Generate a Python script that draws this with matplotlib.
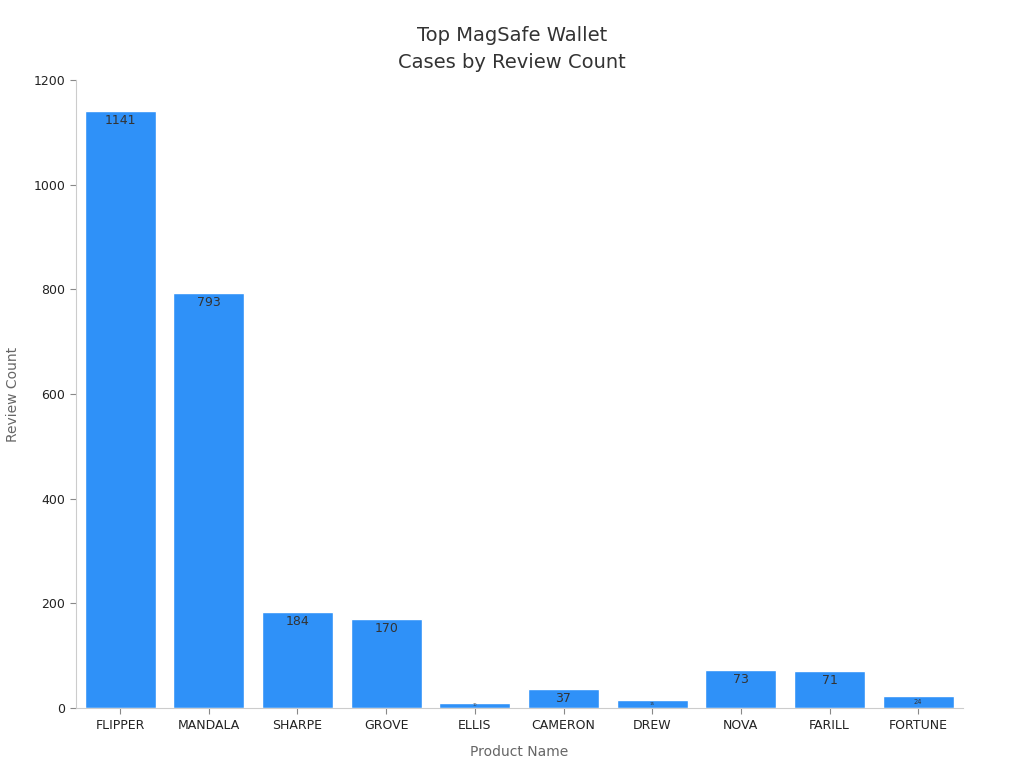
import matplotlib.pyplot as plt

products = ["FLIPPER", "MANDALA", "SHARPE", "GROVE", "ELLIS",
            "CAMERON", "DREW", "NOVA", "FARILL", "FORTUNE"]
reviews = [1141, 793, 184, 170, 10, 37, 15, 73, 71, 24]

fig = plt.figure(figsize=(10.24, 7.68), dpi=100)
ax = fig.add_axes([0.074, 0.078, 0.866, 0.818])

bars = ax.bar(range(len(products)), reviews, width=0.8, color="#2f91f8",
              edgecolor="white", linewidth=1)

for i, v in enumerate(reviews):
    # shrink labels that don't fit inside short bars
    fs = 9 if v >= 30 else max(2.5, v * 0.2)
    off = 6 if v >= 30 else v * 0.5
    va = "top" if v >= 30 else "center"
    ax.text(i, v - off, str(v), ha="center", va=va, fontsize=fs, color="#333333")

ax.set_xlim(-0.5, len(products) - 0.5)
ax.set_ylim(0, 1200)
ax.set_yticks(range(0, 1201, 200))
ax.set_xticks(range(len(products)))
ax.set_xticklabels(products, fontsize=9, color="#222222")
ax.tick_params(axis="y", labelsize=9, labelcolor="#222222")
ax.tick_params(color="#888888", length=4)

for s in ["top", "right"]:
    ax.spines[s].set_visible(False)
for s in ["left", "bottom"]:
    ax.spines[s].set_color("#cccccc")

ax.set_xlabel("Product Name", fontsize=10, color="#666666", labelpad=10)
ax.set_ylabel("Review Count", fontsize=10, color="#666666", labelpad=10)
fig.suptitle("Top MagSafe Wallet\nCases by Review Count", x=0.5, y=0.966,
             fontsize=14, color="#333333", linespacing=1.5)

fig.savefig("out.png", dpi=100)
